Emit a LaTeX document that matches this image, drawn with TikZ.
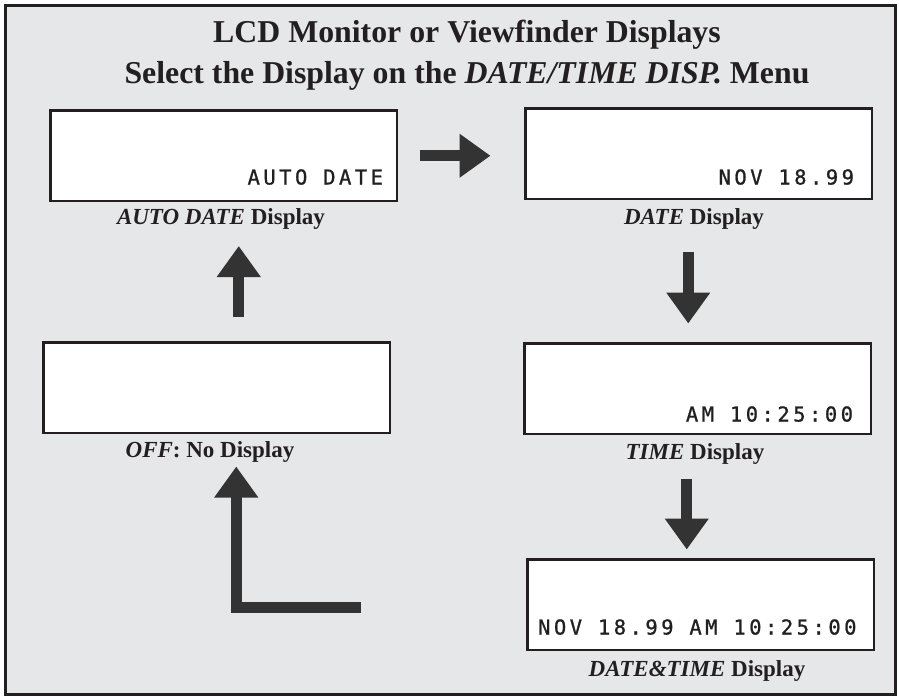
\documentclass[tikz,border=0pt]{standalone}
\usepackage{fontspec}
\setmainfont{Liberation Serif}
\newfontfamily\lcdfont{DejaVu Sans Mono}[LetterSpace=17,FakeBold=1]
\usetikzlibrary{arrows.meta}
\definecolor{bg}{HTML}{E6E7E8}
\definecolor{ink}{HTML}{231F20}
\definecolor{arr}{HTML}{333333}
\tikzset{
 lcdbox/.style={draw=ink, line width=2.5pt, fill=white, minimum width=346.5pt, minimum height=90.5pt, inner sep=0pt, anchor=north west},
 lcdtext/.style={font=\lcdfont\fontsize{20.5}{24}\selectfont, text=ink, anchor=base east, inner sep=0pt},
 caption/.style={font=\fontsize{23}{27}\selectfont\bfseries, text=ink, anchor=base, inner sep=0pt},
 titletext/.style={font=\fontsize{31.8}{36}\selectfont\bfseries, text=ink, anchor=base, inner sep=0pt},
 bigarrow/.style={draw=arr, line width=11pt, line join=miter, -{Triangle[width=42pt,length=31pt]}},
}
\begin{document}
\begin{tikzpicture}[x=1pt,y=-1pt]
\useasboundingbox (0,0) rectangle (899,696);
\draw[ink, line width=2.5pt, fill=bg] (5.5,5.5) rectangle (895.5,694.5);
% title
\node[titletext] (title1) at (467,42) {LCD Monitor or Viewfinder Displays};
\node[titletext] (title2) at (467,83) {Select the Display on the \textit{DATE/TIME DISP.} Menu};
% boxes
\node[lcdbox] (b1) at (49.25,109.25) {};
\node[lcdbox] (b2) at (524.25,107.25) {};
\node[lcdbox] (b0) at (42.25,341.25) {};
\node[lcdbox] (b3) at (523.25,342.25) {};
\node[lcdbox] (b4) at (526.25,558.25) {};
% lcd texts
\node[lcdtext] (t1) at ([xshift=-15pt,yshift=17.75pt]b1.south east) {AUTO DATE};
\node[lcdtext] (t2) at ([xshift=-19pt,yshift=15.75pt]b2.south east) {NOV 18.99};
\node[lcdtext] (t3) at ([xshift=-19pt,yshift=13.75pt]b3.south east) {AM 10:25:00};
\node[lcdtext] (t4) at ([xshift=-18.5pt,yshift=16.75pt]b4.south east) {NOV 18.99 AM 10:25:00};
% captions
\node[caption] (l1) at (221,224) {\textit{AUTO DATE} Display};
\node[caption] (l2) at (694,224) {\textit{DATE} Display};
\node[caption] (l0) at (210,457) {\textit{OFF}: No Display};
\node[caption] (l3) at (695,459) {\textit{TIME} Display};
\node[caption] (l4) at (697,676) {\textit{DATE\&TIME} Display};
% arrows
\draw[bigarrow] (b1.east) ++(21.25,0) -- ++(71,0);
\draw[bigarrow] (b0.north) ++(22,-24.25) -- ++(0,-71);
\draw[bigarrow] (b2.south) ++(-10.5,51.25) -- ++(0,72);
\draw[bigarrow] (b3.south) ++(-11,43.25) -- ++(0,71);
\coordinate (lstart) at (361,607.5);
\draw[bigarrow] (lstart) -| ([xshift=19.5pt,yshift=-32.25pt]b0.south);
\end{tikzpicture}
\end{document}
